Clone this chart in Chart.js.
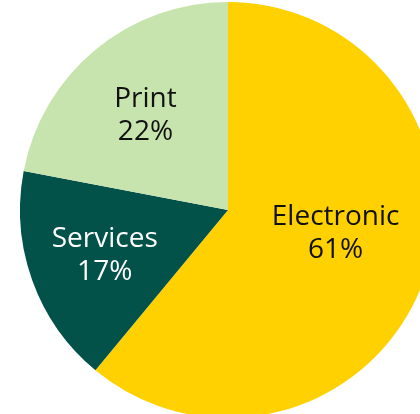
<!DOCTYPE html>
<html>
<head>
<meta charset="utf-8">
<script src="https://cdn.jsdelivr.net/npm/chart.js@4.4.1/dist/chart.umd.min.js"></script>
<style>
  html, body { margin: 0; padding: 0; background: #fff; }
  body { width: 420px; height: 414px; overflow: hidden; position: relative; }
  #wrap { position: absolute; left: 20px; top: 2px; width: 416px; height: 416px; }
</style>
</head>
<body>
<div id="wrap"><canvas id="chart" width="416" height="416"></canvas></div>
<script>
const categories = ["Electronic", "Services", "Print"];
const shares = [61, 17, 22];
const colors = ["#FFD100", "#03524A", "#C8E4AE"];
const textColors = ["#111111", "#FFFFFF", "#111111"];

// label placement inside each slice (fraction of radius + small nudge)
const labelPos = [
  { r: 0.55, dx: 0, dy: -16 },
  { r: 0.63, dx: 0, dy: 1 },
  { r: 0.6, dx: -3, dy: 1 },
];

const sliceLabels = {
  id: "sliceLabels",
  afterDatasetsDraw(chart) {
    const ctx = chart.ctx;
    const arcs = chart.getDatasetMeta(0).data;
    ctx.save();
    ctx.font = '28px "Open Sans"';
    ctx.textAlign = "center";
    ctx.textBaseline = "middle";
    arcs.forEach((arc, i) => {
      const mid = (arc.startAngle + arc.endAngle) / 2;
      const r = arc.outerRadius * labelPos[i].r;
      const x = arc.x + Math.cos(mid) * r + labelPos[i].dx;
      const y = arc.y + Math.sin(mid) * r + labelPos[i].dy;
      ctx.fillStyle = textColors[i];
      ctx.fillText(categories[i], x, y - 16);
      ctx.fillText(shares[i] + "%", x, y + 17);
    });
    ctx.restore();
  },
};

new Chart(document.querySelector("#chart"), {
  type: "pie",
  data: {
    labels: categories,
    datasets: [
      {
        data: shares,
        backgroundColor: colors,
        borderWidth: 0,
      },
    ],
  },
  options: {
    responsive: false,
    animation: false,
    layout: { padding: 0 },
    plugins: {
      legend: { display: false },
      tooltip: { enabled: false },
    },
  },
  plugins: [sliceLabels],
});
</script>
</body>
</html>
